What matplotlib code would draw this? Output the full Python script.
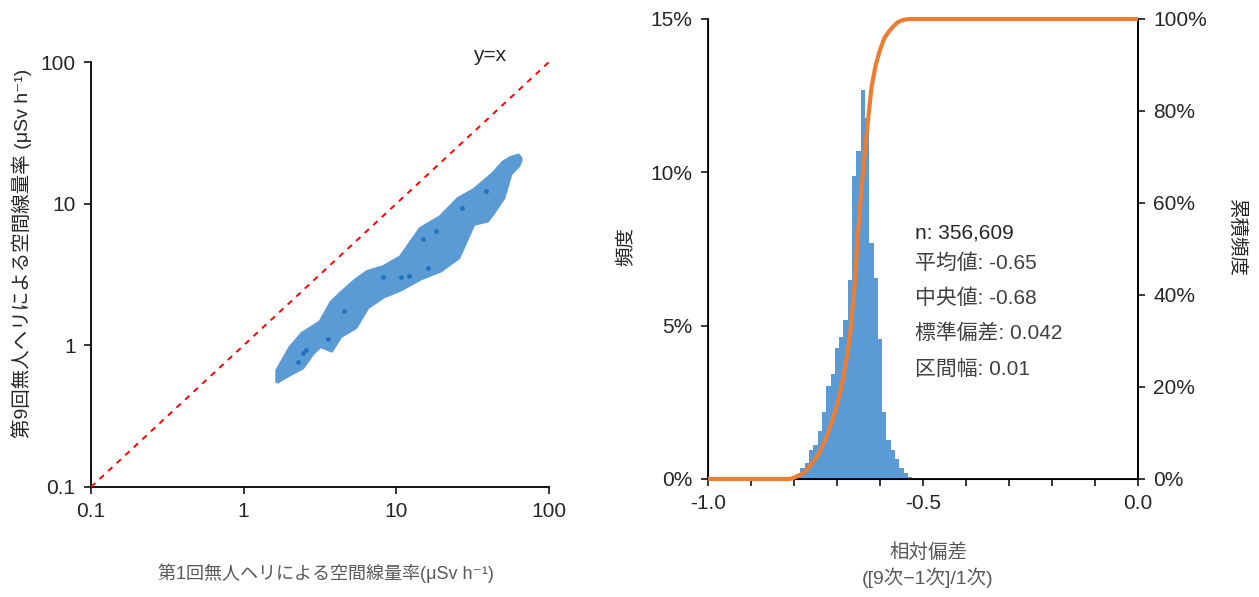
import matplotlib
matplotlib.use("Agg")
import matplotlib.pyplot as plt
from matplotlib.ticker import FuncFormatter, MultipleLocator, FixedLocator, NullLocator

plt.rcParams['font.family'] = ['Liberation Sans', 'Noto Sans CJK JP', 'DejaVu Sans']

# ---------------- data: left scatter (band envelope of dense points) ----------------
band_x = [1.65, 2.01, 2.41, 2.80, 3.16, 3.73, 4.27, 5.36, 6.42, 8.17, 10.6, 14.3,
          19.3, 25.3, 31.8, 39.2, 42.9, 49.9, 55.5, 62.5, 64.5]
band_upper = [0.670, 0.973, 1.22, 1.35, 1.47, 2.02, 2.33, 2.89, 3.32, 3.59, 4.22, 6.69,
              8.09, 10.9, 12.5, 15.1, 16.4, 19.7, 21.1, 22.0, 21.0]
band_lower = [0.560, 0.634, 0.703, 0.883, 1.00, 0.927, 1.17, 1.35, 1.87, 2.23, 2.50, 2.99,
              3.40, 4.20, 7.26, 7.66, 8.73, 11.1, 16.4, 18.7, 20.3]
dense_x = [2.28, 2.43, 2.55, 3.58, 4.54, 8.21, 10.8, 12.1, 14.9, 16.2, 18.2, 26.8, 38.5]
dense_y = [0.766, 0.879, 0.927, 1.10, 1.75, 3.02, 3.05, 3.10, 5.62, 3.53, 6.44, 9.27, 12.3]
diag = [0.1, 100]

# ---------------- data: right histogram ----------------
hist_centers = [-0.79, -0.78, -0.77, -0.76, -0.75, -0.74, -0.73, -0.72, -0.71, -0.70,
                -0.69, -0.68, -0.67, -0.66, -0.65, -0.64, -0.63, -0.62, -0.61, -0.60,
                -0.59, -0.58, -0.57, -0.56, -0.55, -0.54, -0.53, -0.52]
hist_pct = [0.15, 0.37, 0.53, 0.95, 1.10, 1.57, 2.20, 3.04, 3.42, 4.28,
            4.62, 5.18, 6.49, 9.88, 10.70, 12.68, 11.78, 7.69, 6.56, 4.56,
            2.19, 1.27, 0.95, 0.64, 0.37, 0.20, 0.08, 0.03]
cdf_x = [-1.00, -0.81, -0.80, -0.79, -0.78, -0.77, -0.76, -0.75, -0.74, -0.73, -0.72,
         -0.71, -0.70, -0.69, -0.68, -0.67, -0.66, -0.65, -0.64, -0.63, -0.62, -0.61,
         -0.60, -0.59, -0.58, -0.57, -0.56, -0.55, -0.54, -0.53, 0.00]
cdf_pct = [0, 0, 0.3, 0.7, 1.2, 2.0, 3.2, 4.4, 6.0, 8.0, 10.3,
           13.0, 16.2, 20.0, 25.0, 31.0, 41.0, 55.0, 66.5, 76.0, 85.0, 90.0,
           93.3, 95.8, 97.2, 98.3, 99.2, 99.7, 99.9, 100, 100]
stats_lines = ["n: 356,609", "平均値: -0.65", "中央値: -0.68", "標準偏差: 0.042", "区間幅: 0.01"]

BLUE = '#5B9BD5'
ORANGE = '#ED7D31'
TXT = '#262626'

fig = plt.figure(figsize=(12.59, 5.97), dpi=100)

# ---------------- left panel ----------------
ax = fig.add_axes([91/1259, 1-487/597, 458/1259, 425/597])
ax.set_xscale('log'); ax.set_yscale('log')
ax.set_xlim(0.1, 100); ax.set_ylim(0.1, 100)
ax.fill_between(band_x, band_lower, band_upper, color=BLUE, edgecolor=BLUE,
                linewidth=3, joinstyle='round', capstyle='round', zorder=2)
ax.scatter(dense_x, dense_y, s=12, color='#2270BE', zorder=3, linewidths=0)
ax.plot(diag, diag, color='#FF0000', linestyle=(0, (3, 3)), linewidth=1.4, clip_on=False, zorder=4)
ax.text(41, 112, 'y=x', fontsize=15, color=TXT, ha='center', va='center')
for s in ['top', 'right']:
    ax.spines[s].set_visible(False)
for s in ['left', 'bottom']:
    ax.spines[s].set_linewidth(1.3)
ax.xaxis.set_major_locator(FixedLocator([0.1, 1, 10, 100]))
ax.yaxis.set_major_locator(FixedLocator([0.1, 1, 10, 100]))
ax.xaxis.set_minor_locator(NullLocator()); ax.yaxis.set_minor_locator(NullLocator())
fmt = FuncFormatter(lambda v, p: ('%g' % v))
ax.xaxis.set_major_formatter(fmt); ax.yaxis.set_major_formatter(fmt)
ax.tick_params(direction='out', length=5, width=1.3, labelsize=15, colors=TXT, pad=6)
ax.set_ylabel('第9回無人ヘリによる空間線量率 (μSv h⁻¹)', fontsize=14, color=TXT)
ax.yaxis.set_label_coords((32-91)/458, (487-253)/425)
ax.set_xlabel('第1回無人ヘリによる空間線量率(μSv h⁻¹)', fontsize=13, color='#595959')
ax.xaxis.set_label_coords((326-91)/458, -(563-487)/425)

# ---------------- right panel ----------------
bx = fig.add_axes([708/1259, 1-479/597, 430/1259, 460/597])
bx.bar(hist_centers, hist_pct, width=0.01, color=BLUE, linewidth=0, zorder=2)
bx.set_xlim(-1.0, 0.0); bx.set_ylim(0, 15)
bx.xaxis.set_major_locator(FixedLocator([-1.0, -0.5, 0.0]))
bx.xaxis.set_minor_locator(MultipleLocator(0.1))
bx.xaxis.set_major_formatter(FuncFormatter(lambda v, p: '%.1f' % v))
bx.yaxis.set_major_locator(MultipleLocator(5))
bx.yaxis.set_major_formatter(FuncFormatter(lambda v, p: '%d%%' % round(v)))
bx.tick_params(axis='both', which='major', direction='out', length=5, width=1.3,
               labelsize=15, colors=TXT, pad=6)
bx.tick_params(axis='x', which='minor', direction='out', length=5, width=1.3, colors=TXT)
bx.spines['top'].set_visible(False)
for s in ['left', 'bottom', 'right']:
    bx.spines[s].set_linewidth(1.3)
bx.set_ylabel('頻度', fontsize=14, color=TXT)
bx.yaxis.set_label_coords((636-708)/430, (479-247)/460)
bx.set_xlabel('相対偏差\n([9次−1次]/1次)', fontsize=14, color='#595959', linespacing=1.35,
              va='center')
bx.xaxis.set_label_coords((928-708)/430, -(566-479)/460)

cx = bx.twinx()
cx.plot(cdf_x, cdf_pct, color=ORANGE, linewidth=3, clip_on=False, zorder=5,
        solid_capstyle='butt')
cx.set_ylim(0, 100); cx.set_xlim(-1.0, 0.0)
cx.yaxis.set_major_locator(MultipleLocator(20))
cx.yaxis.set_major_formatter(FuncFormatter(lambda v, p: '%d%%' % round(v)))
cx.tick_params(axis='y', direction='out', length=5, width=1.3, labelsize=15, colors=TXT, pad=6)
cx.spines['top'].set_visible(False)
cx.spines['right'].set_linewidth(1.3)
cx.set_ylabel('累積頻度', fontsize=14, color=TXT, rotation=270, va='center')
cx.yaxis.set_label_coords((1236-708)/430, (479-238)/460)

stat_y_px = [233, 263, 298, 333, 369]
for i, line in enumerate(stats_lines):
    bx.text((915-708)/430, (479-stat_y_px[i])/460, line,
            transform=bx.transAxes, fontsize=15, color='#262626' if i == 0 else '#404040',
            ha='left', va='center')

fig.savefig('out.png', dpi=100)
